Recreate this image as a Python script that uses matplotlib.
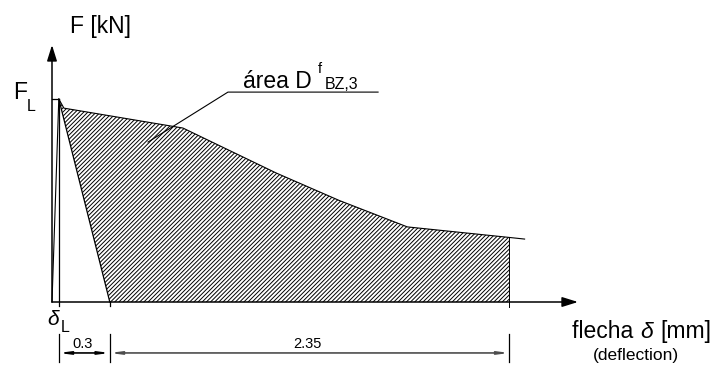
import matplotlib
matplotlib.use("Agg")
import matplotlib.pyplot as plt
import numpy as np

plt.rcParams['font.family'] = ['Liberation Sans', 'DejaVu Sans']
plt.rcParams['hatch.linewidth'] = 0.7

# load-deflection curve (deflection in mm, F relative to F_L)
defl = [0.0, 0.04, 0.07, 0.77, 1.32, 1.69, 2.09, 2.69, 2.78]
force = [0.0, 1.0, 0.955, 0.857, 0.635, 0.50, 0.37, 0.318, 0.31]

delta_L = 0.04
F_L = 1.0
dims = [0.3, 2.35]
dim_labels = ['0.3', '2.35']

fig = plt.figure(figsize=(7.14, 3.73), dpi=100)
ax = fig.add_axes([0, 0, 1, 1])
ax.set_xlim(-52 / 170, (714 - 52) / 170)
ax.set_ylim(-(373 - 302) / 203, 302 / 203)
ax.axis('off')

d = np.array(defl)
f = np.array(force)
x_unload = delta_L + dims[0]
x_end = x_unload + dims[1]

# hatched area D^f_BZ,3
top = (d >= delta_L) & (d <= x_end + 1e-9)
poly_x = list(d[top]) + [x_end, x_unload]
poly_y = list(f[top]) + [0, 0]
ax.fill(poly_x, poly_y, facecolor='none', edgecolor='k', hatch='////////', linewidth=0)

# curve
ax.plot(d, f, color='k', lw=0.8)
# F_L level and delta_L line
ax.plot([0, delta_L], [F_L, F_L], color='k', lw=0.9)
ax.plot([delta_L, delta_L], [F_L, -0.02], color='k', lw=0.9)
# unloading line
ax.plot([delta_L, x_unload], [F_L, 0], color='k', lw=0.9)
ax.plot([x_unload, x_unload], [0, -0.02], color='k', lw=0.9)
ax.plot([x_end, x_end], [np.interp(x_end, d, f), -0.025], color='k', lw=0.7)

# axes arrows
arr = dict(arrowstyle='-|>,head_length=0.8,head_width=0.25', mutation_scale=12,
           lw=1.1, color='k', shrinkA=0, shrinkB=0)
ax.annotate('', xy=(0, 1.266), xytext=(0, 0), arrowprops=arr)
ax.annotate('', xy=(3.094, 0), xytext=(0, 0), arrowprops=arr)

# dimension lines
ticks = [delta_L, x_unload, x_end]
for xt in ticks:
    ax.plot([xt, xt], [-0.158, -0.296], color='k', lw=0.9)
dim_y = -0.251
dcol = ['k', '0.3']
for i in range(len(dims)):
    ax.annotate('', xy=(ticks[i], dim_y), xytext=(ticks[i + 1], dim_y),
                arrowprops=dict(arrowstyle='<|-|>,head_length=0.6,head_width=0.08',
                                mutation_scale=10, lw=1.2, color=dcol[i],
                                shrinkA=0, shrinkB=0))
    ax.text((ticks[i] + ticks[i + 1]) / 2 - 0.01, -0.227, dim_labels[i],
            ha='center', va='baseline', fontsize=10.5)

# labels
ax.text(0.106, 1.325, 'F [kN]', fontsize=16.5, va='baseline')
ax.text(-0.229, 1.0, 'F', fontsize=16.5, va='baseline')
ax.text(-0.147, 0.941, 'L', fontsize=11.5, va='baseline')
ax.text(-0.026, -0.113, 'δ', fontsize=15, style='italic', va='baseline')
ax.text(0.053, -0.148, 'L', fontsize=11.5, va='baseline')

ax.text(1.124, 1.054, 'área D', fontsize=16.5, va='baseline')
ax.text(1.565, 1.128, 'f', fontsize=10.5, va='baseline')
ax.text(1.606, 1.049, 'BZ,3', fontsize=11.5, va='baseline')
ax.plot([0.565, 1.035, 1.918], [0.788, 1.034, 1.034], color='k', lw=0.8)

ax.text(3.459, -0.177, 'flecha ', fontsize=16.5, va='baseline', ha='right')
ax.text(3.459, -0.177, 'δ', fontsize=16.5, style='italic', va='baseline', ha='left')
ax.text(3.58, -0.177, '[mm]', fontsize=16.5, va='baseline', ha='left')
ax.text(3.435, -0.286, '(deflection)', fontsize=12.5, va='baseline', ha='center')

fig.savefig('out.png', dpi=100)
